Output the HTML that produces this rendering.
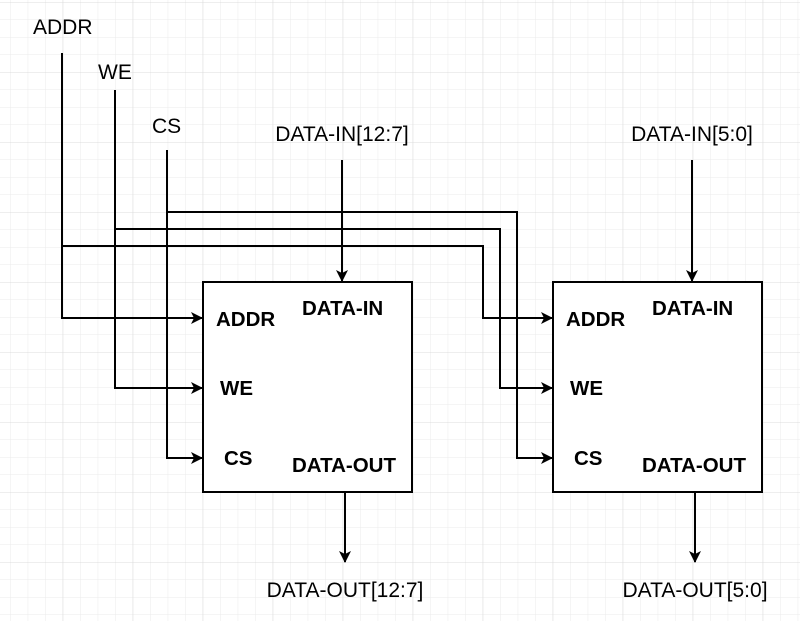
<!DOCTYPE html>
<html><head><style>
html,body{margin:0;padding:0;background:#fff;}
svg{display:block;}
text{font-family:"Liberation Sans",Arial,sans-serif;}
</style></head><body>
<svg width="800" height="621" xmlns="http://www.w3.org/2000/svg">
<defs>
<pattern id="g" width="17.5" height="17.5" patternUnits="userSpaceOnUse" x="-7.3" y="2">
<path d="M0 0H17.5M0 0V17.5" stroke="#ebebeb" stroke-width="1" fill="none"/>
</pattern>
<pattern id="G" width="70" height="70" patternUnits="userSpaceOnUse" x="-7.3" y="2">
<path d="M0 0H70M0 0V70" stroke="#dcdcdc" stroke-width="1" fill="none"/>
</pattern>
<marker id="a" markerWidth="12" markerHeight="12" refX="11" refY="6" orient="auto" markerUnits="userSpaceOnUse">
<path d="M0 0L12 6L0 12L3 6Z" fill="#000"/>
</marker>
</defs>
<rect width="800" height="621" fill="url(#g)"/>
<rect width="800" height="621" fill="url(#G)"/>
<g stroke="#000" stroke-width="2" fill="none">
<rect x="203" y="282" width="209" height="210" fill="#fff"/>
<rect x="553" y="282" width="209" height="210" fill="#fff"/>
<path d="M62 53V318H202" marker-end="url(#a)"/>
<path d="M115 90V388H202" marker-end="url(#a)"/>
<path d="M167 150V458H202" marker-end="url(#a)"/>
<path d="M62 246H483V318H552" marker-end="url(#a)"/>
<path d="M115 229H500V388H552" marker-end="url(#a)"/>
<path d="M167 212H517V458H552" marker-end="url(#a)"/>
<path d="M342 160V281" marker-end="url(#a)"/>
<path d="M692 160V281" marker-end="url(#a)"/>
<path d="M345 492V562" marker-end="url(#a)"/>
<path d="M695 492V562" marker-end="url(#a)"/>
</g>
<g font-size="21" fill="#000">
<text x="33" y="34">ADDR</text>
<text x="98" y="79">WE</text>
<text x="152" y="133">CS</text>
<text x="342" y="141" text-anchor="middle">DATA-IN[12:7]</text>
<text x="692" y="141" text-anchor="middle">DATA-IN[5:0]</text>
<text x="345" y="597" text-anchor="middle">DATA-OUT[12:7]</text>
<text x="695" y="597" text-anchor="middle">DATA-OUT[5:0]</text>
</g>
<g font-size="20.5" font-weight="bold" fill="#000">
<text x="216" y="326">ADDR</text>
<text x="220" y="395">WE</text>
<text x="224" y="465">CS</text>
<text x="302" y="315">DATA-IN</text>
<text x="292" y="472">DATA-OUT</text>
<text x="566" y="326">ADDR</text>
<text x="570" y="395">WE</text>
<text x="574" y="465">CS</text>
<text x="652" y="315">DATA-IN</text>
<text x="642" y="472">DATA-OUT</text>
</g>
</svg>
</body></html>
